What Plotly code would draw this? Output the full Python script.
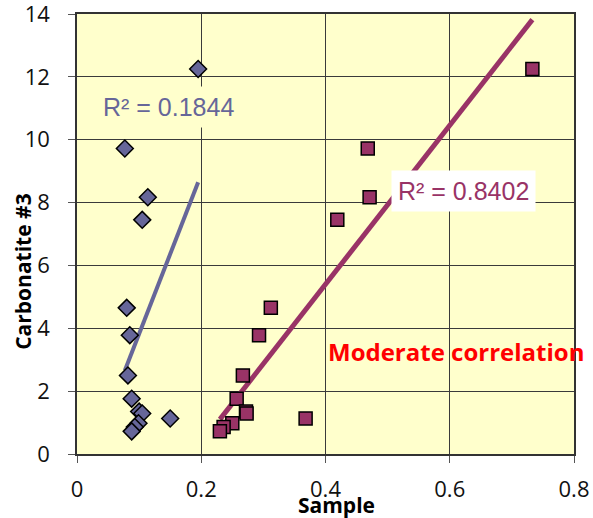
import numpy as np
import plotly.graph_objects as go

# Carbonatite #3 values shared by both sample series
carbonatite = [12.25, 9.72, 8.17, 7.45, 4.65, 3.78, 2.50, 1.76, 1.35, 1.29, 1.13, 0.98, 0.86, 0.72]

# Sample values, first series (diamonds)
sample_a = [0.195, 0.077, 0.114, 0.105, 0.080, 0.085, 0.082, 0.088, 0.100, 0.105, 0.150, 0.099, 0.093, 0.088]
# Sample values, second series (squares)
sample_b = [0.733, 0.468, 0.471, 0.419, 0.312, 0.293, 0.267, 0.257, 0.272, 0.273, 0.368, 0.250, 0.236, 0.230]

r2_a = "R² = 0.1844"
r2_b = "R² = 0.8402"

x_ticks = [0, 0.2, 0.4, 0.6, 0.8]
y_ticks = [0, 2, 4, 6, 8, 10, 12, 14]

BLUE = "#666699"
PLUM = "#993366"


def linear_trend(x, y):
    """Least-squares line spanning the x range of the series."""
    x = np.asarray(x)
    slope, intercept = np.polyfit(x, np.asarray(y), 1)
    xs = np.array([x.min(), x.max()])
    return xs, slope * xs + intercept


fig = go.Figure()

ta_x, ta_y = linear_trend(sample_a, carbonatite)
tb_x, tb_y = linear_trend(sample_b, carbonatite)

fig.add_trace(go.Scatter(x=ta_x, y=ta_y, mode="lines",
                         line=dict(color=BLUE, width=4), showlegend=False, hoverinfo="skip"))
fig.add_trace(go.Scatter(x=tb_x, y=tb_y, mode="lines",
                         line=dict(color=PLUM, width=5), showlegend=False, hoverinfo="skip"))

fig.add_trace(go.Scatter(x=sample_a, y=carbonatite, mode="markers", showlegend=False,
                         marker=dict(symbol="diamond", size=13, color=BLUE,
                                     line=dict(color="#000000", width=1.5))))
fig.add_trace(go.Scatter(x=sample_b, y=carbonatite, mode="markers", showlegend=False,
                         marker=dict(symbol="square", size=13, color=PLUM,
                                     line=dict(color="#000000", width=1.5))))

axis_common = dict(
    showgrid=True, gridcolor="#3a3a3a", gridwidth=1,
    showline=True, linecolor="#333333", linewidth=1.5, mirror=True,
    ticks="outside", ticklen=7, tickcolor="#555555", tickwidth=1,
    tickfont=dict(family="Open Sans", size=22, color="#111111"),
    zeroline=False, automargin=False, ticklabeloverflow="allow",
)

fig.update_xaxes(range=[0, 0.8], tickvals=x_ticks, ticktext=[f"{v:g}" for v in x_ticks],
                 ticklabelstandoff=8, **axis_common)
fig.update_yaxes(range=[0, 14], tickvals=y_ticks, ticktext=[str(v) for v in y_ticks],
                 ticklabelstandoff=14, **axis_common)

fig.add_annotation(x=0.148, y=11.05, xref="x", yref="y", text=r2_a, showarrow=False,
                   font=dict(family="Liberation Sans", size=25, color=BLUE),
                   bgcolor="#FFFFCC", borderpad=6)
fig.add_annotation(x=0.6216, y=8.36, xref="x", yref="y", text=r2_b, showarrow=False,
                   font=dict(family="Liberation Sans", size=25, color=PLUM),
                   bgcolor="#FFFFFF", borderpad=6)
fig.add_annotation(x=0.610, y=3.25, xref="x", yref="y", text="<b>Moderate correlation</b>",
                   showarrow=False, font=dict(family="Open Sans", size=24, color="#FF0000"))

fig.add_annotation(x=0.523, y=-0.116, xref="paper", yref="paper", text="<b>Sample</b>",
                   showarrow=False, yanchor="middle",
                   font=dict(family="Open Sans", size=21, color="#000000"))
fig.add_annotation(x=-0.1087, y=0.414, xref="paper", yref="paper", text="<b>Carbonatite #3</b>",
                   showarrow=False, textangle=-90, xanchor="center", yanchor="middle",
                   font=dict(family="Open Sans", size=21, color="#000000"))

fig.update_layout(
    width=593, height=518,
    margin=dict(l=77, r=19, t=14, b=64),
    paper_bgcolor="#FFFFFF", plot_bgcolor="#FFFFCC",
    showlegend=False,
)

fig.write_html("out.html")
